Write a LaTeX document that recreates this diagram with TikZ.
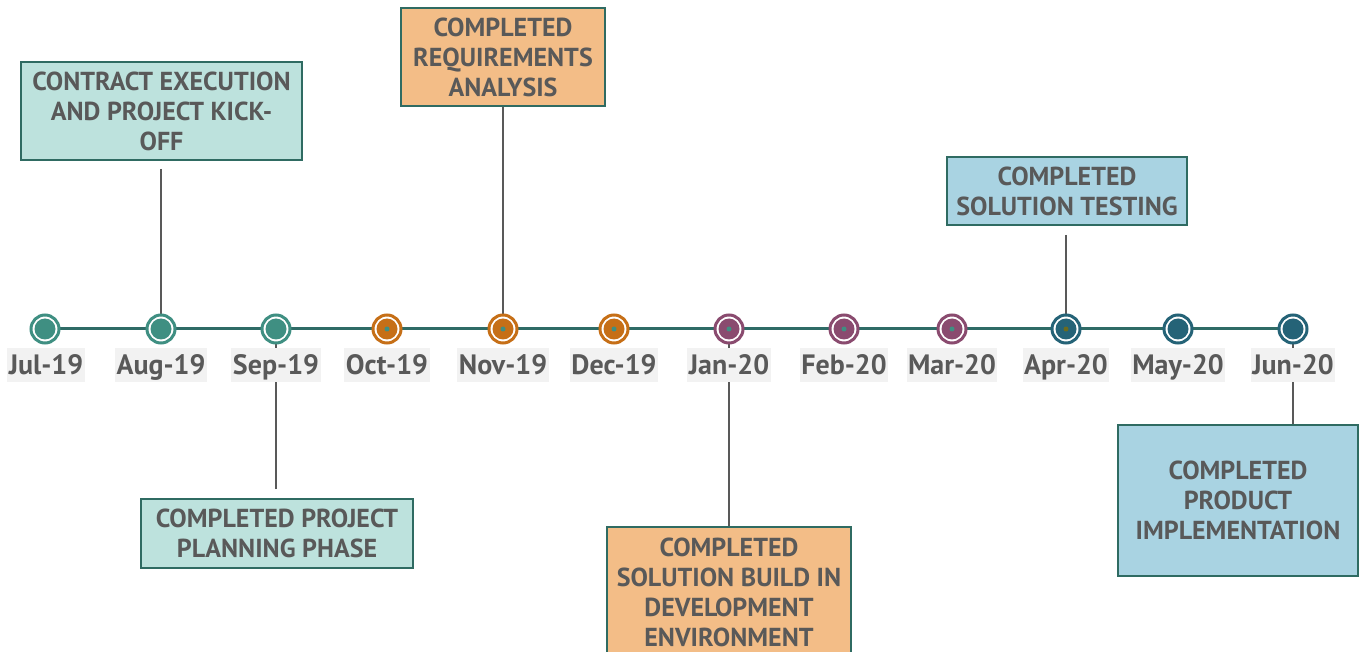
\documentclass[tikz,border=0pt]{standalone}
\usepackage{fontspec}
\setmainfont{PT Sans}
\definecolor{tealm}{HTML}{3F8F82}
\definecolor{orangem}{HTML}{C66F17}
\definecolor{purplem}{HTML}{8A4B6F}
\definecolor{bluem}{HTML}{256377}
\definecolor{axis}{HTML}{2F6B66}
\definecolor{txt}{HTML}{595959}
\definecolor{tealfill}{HTML}{BDE2DD}
\definecolor{orangefill}{HTML}{F3BD87}
\definecolor{bluefill}{HTML}{A9D3E2}
\definecolor{boxline}{HTML}{2F6B62}
\definecolor{labelbg}{HTML}{F2F2F2}
\definecolor{dotolive}{HTML}{6B6B1E}
\begin{document}
\begin{tikzpicture}[x=1pt,y=-1pt,
  box/.style={draw=boxline, line width=1.6pt, text=txt, font=\bfseries\fontsize{26}{30}\selectfont, align=center, inner sep=0pt},
  datelbl/.style={fill=labelbg, text=txt, font=\bfseries\fontsize{28}{30}\selectfont, inner xsep=1.5pt, inner ysep=0pt, text height=26pt, text depth=8pt},
  conn/.style={draw=txt, line width=1.8pt},
  ring/.style={draw=#1, line width=3pt, fill=white, circle, minimum size=28pt, inner sep=0pt},
  core/.style={fill=#1, circle, minimum size=21pt, inner sep=0pt},
  pip/.style={fill=#1, circle, minimum size=5pt, inner sep=0pt}
]
\useasboundingbox (0,0) rectangle (1361,652);

% timeline axis coordinates
\foreach \n/\x in {jul/45,aug/161,sep/276,oct/387,nov/503,dec/614,jan/729,feb/844,mar/952,apr/1066,may/1178,jun/1293}
  \coordinate (\n) at (\x,329);

% boxes
\node[box, fill=tealfill, minimum width=281pt, minimum height=98pt] (b1) at (161.5,111) {CONTRACT EXECUTION\\AND PROJECT KICK-\\OFF};
\node[box, fill=orangefill, minimum width=204pt, minimum height=98pt] (b2) at (503,57) {COMPLETED\\REQUIREMENTS\\ANALYSIS};
\node[box, fill=bluefill, minimum width=240pt, minimum height=68pt] (b3) at (1067,191) {COMPLETED\\SOLUTION TESTING};
\node[box, fill=tealfill, minimum width=272pt, minimum height=69pt] (b4) at (277,533.5) {COMPLETED PROJECT\\PLANNING PHASE};
\node[box, fill=orangefill, minimum width=244pt, minimum height=131pt] (b5) at (729,592.5) {COMPLETED\\SOLUTION BUILD IN\\DEVELOPMENT\\ENVIRONMENT};
\node[box, fill=bluefill, minimum width=240pt, minimum height=151pt] (b6) at (1238,500.5) {COMPLETED\\PRODUCT\\IMPLEMENTATION};

% connectors
\draw[conn, shorten <=8pt] (b1.south -| aug) -- (aug);
\draw[conn] (b2.south) -- (nov);
\draw[conn, shorten <=9pt] (b3.south -| apr) -- (apr);
\draw[conn, shorten <=9pt] (b4.north -| sep) -- (sep);
\draw[conn] (b5.north) -- (jan);
\draw[conn] (b6.north -| jun) -- (jun);

% axis line
\draw[axis, line width=3pt] (jul) -- (jun);

% markers
\foreach \n/\c in {jul/tealm,aug/tealm,sep/tealm,oct/orangem,nov/orangem,dec/orangem,jan/purplem,feb/purplem,mar/purplem,apr/bluem,may/bluem,jun/bluem}{
  \node[ring=\c] (r\n) at (\n) {};
  \node[core=\c] (c\n) at (\n) {};
}
\foreach \n in {oct,nov,dec,jan,feb,mar}
  \node[pip=tealm] (p\n) at (\n) {};
\node[pip=dotolive] (papr) at (apr) {};

% date labels
\foreach \n/\t/\x in {jul/Jul-19/46,aug/Aug-19/161,sep/Sep-19/276,oct/Oct-19/387,nov/Nov-19/503,dec/Dec-19/614,jan/Jan-20/729,feb/Feb-20/844,mar/Mar-20/952,apr/Apr-20/1066,may/May-20/1178,jun/Jun-20/1293}
  \node[datelbl, anchor=north] (l\n) at (\x,348) {\t};
\end{tikzpicture}
\end{document}
